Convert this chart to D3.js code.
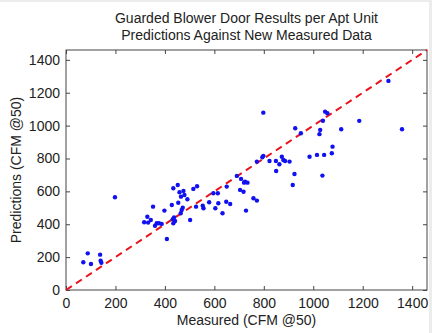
<!DOCTYPE html>
<html>
<head>
<meta charset="utf-8">
<script src="https://cdn.jsdelivr.net/npm/d3@7"></script>
<style>
  body { margin: 0; background: #fff; }
  svg { display: block; font-family: "Liberation Sans", Arial, sans-serif; }
</style>
</head>
<body>
<div id="chart"></div>
<script>
// measured vs predicted CFM @50
const measured = [70, 88, 101, 138, 140, 143, 198,
  316, 329, 332, 352, 343, 367, 360, 376, 387, 398, 408, 428, 434, 452,
  437, 432, 441, 434, 459, 475, 479, 465, 454, 468, 464, 472, 502, 491,
  515, 530, 526, 553, 556, 579, 596, 614, 604, 616, 633, 650, 648, 664,
  691, 708, 704, 718, 724, 728, 720, 734, 758, 772,
  798, 927, 950, 1048, 1057, 1039, 1028, 1025, 798, 794, 772, 823, 849,
  873, 879, 886, 863, 904, 850, 924, 917, 985, 1015, 1044, 1075, 1078,
  1037, 1186, 1113, 1304, 1359];
const predicted = [169, 223, 158, 215, 178, 166, 564,
  412, 446, 410, 507, 426, 406, 391, 406, 402, 483, 310, 517, 619, 639,
  442, 430, 420, 406, 595, 603, 578, 568, 531, 487, 467, 501, 426, 552,
  615, 631, 507, 513, 497, 534, 589, 589, 497, 528, 467, 629, 537, 523,
  694, 676, 609, 598, 659, 483, 653, 653, 558, 544,
  1079, 984, 954, 1085, 1075, 1030, 974, 948, 816, 808, 781, 785, 785,
  811, 791, 785, 765, 781, 724, 706, 639, 811, 822, 822, 832, 872,
  696, 1029, 978, 1272, 978];
const ticks = [0, 200, 400, 600, 800, 1000, 1200, 1400];
const axisMax = 1460;
const titleLines = ["Guarded Blower Door Results per Apt Unit",
                    "Predictions Against New Measured Data"];

const width = 432, height = 333;
const margin = {top: 50, right: 5, bottom: 43, left: 66};
const iw = width - margin.left - margin.right;
const ih = height - margin.top - margin.bottom;

const svg = d3.select("#chart").append("svg")
    .attr("width", width).attr("height", height);

const x = d3.scaleLinear().domain([0, axisMax]).range([0, iw]);
const y = d3.scaleLinear().domain([0, axisMax]).range([ih, 0]);

const g = svg.append("g").attr("transform", `translate(${margin.left},${margin.top})`);

// box
g.append("rect").attr("width", iw).attr("height", ih)
    .attr("fill", "#fff").attr("stroke", "#444").attr("stroke-width", 1);

// inward ticks on all sides
const tickLen = 4;
const fmt = d3.format("d");
g.append("g").attr("transform", `translate(0,${ih})`)
    .call(d3.axisBottom(x).tickValues(ticks).tickSizeInner(-tickLen).tickSizeOuter(0).tickPadding(8).tickFormat(fmt));
g.append("g")
    .call(d3.axisTop(x).tickValues(ticks).tickSizeInner(-tickLen).tickSizeOuter(0).tickFormat(""));
g.append("g")
    .call(d3.axisLeft(y).tickValues(ticks).tickSizeInner(-tickLen).tickSizeOuter(0).tickPadding(6).tickFormat(fmt));
g.append("g").attr("transform", `translate(${iw},0)`)
    .call(d3.axisRight(y).tickValues(ticks).tickSizeInner(-tickLen).tickSizeOuter(0).tickFormat(""));

g.selectAll(".domain").remove();
g.selectAll(".tick line").attr("stroke", "#444");
g.selectAll(".tick text").attr("font-size", 14).attr("fill", "#222")
    .style("font-family", "'Liberation Sans', Arial, sans-serif");

// 1:1 line
g.append("line")
    .attr("x1", x(0)).attr("y1", y(0))
    .attr("x2", x(axisMax)).attr("y2", y(axisMax))
    .attr("stroke", "#e8141c").attr("stroke-width", 2)
    .attr("stroke-dasharray", "7,5");

// points
g.selectAll("circle.pt")
    .data(measured.map((m, i) => [m, predicted[i]]))
    .enter().append("circle")
    .attr("class", "pt")
    .attr("cx", d => x(d[0]))
    .attr("cy", d => y(d[1]))
    .attr("r", 2.2)
    .attr("fill", "#1010f0");

// titles
svg.selectAll("text.title")
    .data(titleLines)
    .enter().append("text")
    .attr("class", "title")
    .attr("x", margin.left + iw / 2)
    .attr("y", (d, i) => 23 + i * 17)
    .attr("text-anchor", "middle")
    .attr("font-size", 14)
    .attr("fill", "#222")
    .text(d => d);

svg.append("text")
    .attr("x", margin.left + iw / 2)
    .attr("y", 325)
    .attr("text-anchor", "middle")
    .attr("font-size", 14)
    .attr("fill", "#222")
    .text("Measured (CFM @50)");

svg.append("text")
    .attr("transform", `translate(21,${margin.top + ih / 2}) rotate(-90)`)
    .attr("text-anchor", "middle")
    .attr("font-size", 14)
    .attr("fill", "#222")
    .text("Predictions (CFM @50)");

// light frame of the screenshot (top and right edges)
svg.append("rect").attr("x", 0).attr("y", 0).attr("width", width).attr("height", 2).attr("fill", "#ececec");
svg.append("rect").attr("x", width - 3).attr("y", 0).attr("width", 3).attr("height", height).attr("fill", "#ececec");
</script>
</body>
</html>
